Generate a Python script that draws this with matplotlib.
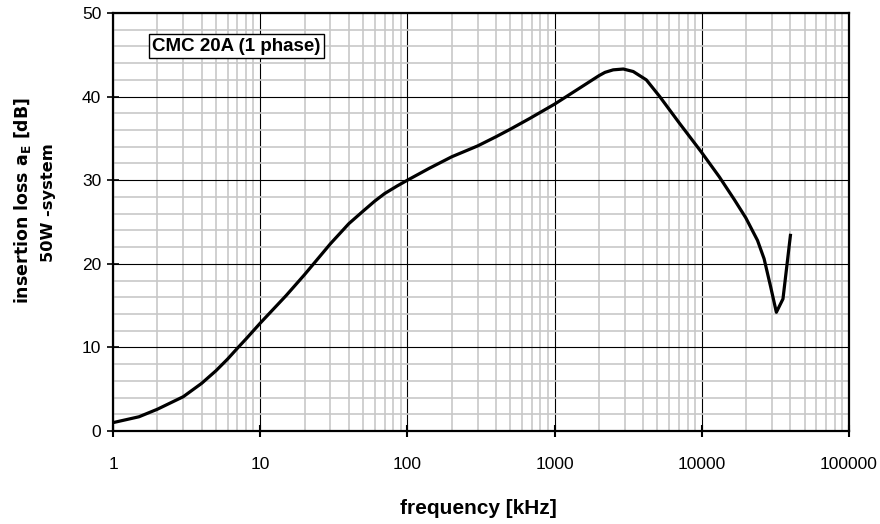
import matplotlib
matplotlib.use("Agg")
import matplotlib.pyplot as plt
from matplotlib.ticker import FixedLocator, NullFormatter

plt.rcParams["font.family"] = ["Liberation Sans", "DejaVu Sans"]
plt.rcParams["mathtext.fontset"] = "custom"
plt.rcParams["mathtext.rm"] = "DejaVu Sans"
plt.rcParams["mathtext.bf"] = "DejaVu Sans:bold"

# insertion loss curve
freq_khz = [1, 1.5, 2, 3, 4, 5, 6, 7, 8, 10, 15, 20, 30, 40, 50, 60, 70, 85,
            100, 140, 200, 300, 400, 500, 680, 1000, 1415, 2000, 2200, 2500,
            2930, 3420, 4200, 5180, 7060, 9900, 13150, 16600, 19900, 23900,
            26500, 29400, 32100, 35600, 40000]
loss_db = [1.0, 1.7, 2.6, 4.1, 5.7, 7.2, 8.6, 9.9, 11.0, 12.9, 16.2, 18.7,
           22.4, 24.8, 26.3, 27.5, 28.4, 29.3, 30.0, 31.4, 32.8, 34.1, 35.2,
           36.1, 37.4, 39.1, 40.8, 42.5, 42.9, 43.2, 43.3, 43.0, 42.0, 40.0,
           36.8, 33.4, 30.4, 27.7, 25.5, 22.8, 20.6, 17.2, 14.2, 15.8, 23.4]

x_ticks = [1, 10, 100, 1000, 10000, 100000]
y_ticks = [0, 10, 20, 30, 40, 50]
box_label = "CMC 20A (1 phase)"

fig = plt.figure(figsize=(8.8, 5.24), dpi=100)
ax = fig.add_axes([113 / 880, 1 - 431 / 524, 736 / 880, 418 / 524])

ax.set_xscale("log")
ax.set_xlim(1, 100000)
ax.set_ylim(0, 50)

minor_x = [m * 10 ** e for e in range(5) for m in range(2, 10)]
ax.xaxis.set_major_locator(FixedLocator(x_ticks))
ax.xaxis.set_minor_locator(FixedLocator(minor_x))
ax.xaxis.set_minor_formatter(NullFormatter())
ax.set_xticklabels([str(v) for v in x_ticks])
ax.yaxis.set_major_locator(FixedLocator(y_ticks))
ax.yaxis.set_minor_locator(FixedLocator(list(range(2, 50, 2))))

ax.grid(which="minor", color="#c8c8c8", linewidth=1.2, zorder=0)
ax.grid(which="major", color="black", linewidth=0.8, zorder=1)
ax.set_axisbelow(True)

ax.plot(freq_khz, loss_db, color="black", linewidth=2.3, zorder=3,
        solid_joinstyle="round")

for s in ax.spines.values():
    s.set_linewidth(1.6)
    s.set_zorder(4)

ax.tick_params(axis="x", which="major", direction="inout", length=8, width=1.5,
               labelsize=12.5, pad=15)
ax.tick_params(axis="y", which="major", direction="inout", length=9, width=1.2,
               labelsize=12.5, pad=4)
ax.tick_params(which="minor", length=0)

fig.text(478 / 880, 1 - 508 / 524, "frequency [kHz]", ha="center", va="center",
         fontsize=15, fontweight="bold")
fig.text(23 / 880, 1 - 200 / 524, r"insertion loss a$_\mathbf{E}$ [dB]",
         ha="center", va="center", rotation=90, fontsize=12.5,
         fontweight="bold", family="DejaVu Sans")
fig.text(48 / 880, 1 - 203 / 524, "50W -system", ha="center", va="center",
         rotation=90, fontsize=11.7, fontweight="bold", family="DejaVu Sans")

ax.text(0.0535, 0.921, box_label, transform=ax.transAxes, ha="left", va="center",
        fontsize=13.5, fontweight="bold", zorder=5,
        bbox=dict(boxstyle="square,pad=0.18", facecolor="white",
                  edgecolor="black", linewidth=1))

fig.savefig("out.png", dpi=100)
